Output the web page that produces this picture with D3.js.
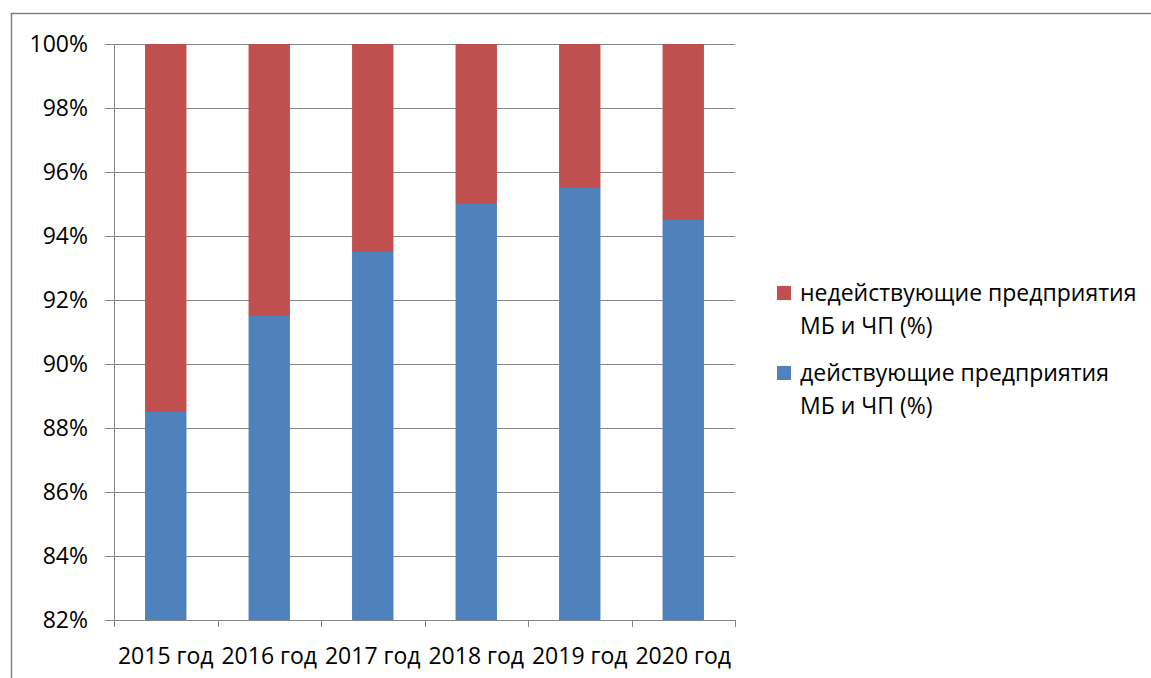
<!DOCTYPE html>
<html>
<head>
<meta charset="utf-8">
<script src="https://d3js.org/d3.v7.min.js"></script>
<style>
  body { margin: 0; background: #fff; }
  svg text { font-family: "Open Sans", "Noto Sans", sans-serif; fill: #000; }
</style>
</head>
<body>
<svg id="chart" width="1151" height="678"></svg>
<script>
// data
var years = ["2015 год", "2016 год", "2017 год", "2018 год", "2019 год", "2020 год"];
var active = [88.5, 91.5, 93.5, 95, 95.5, 94.5];          // действующие
var inactive = [11.5, 8.5, 6.5, 5, 4.5, 5.5];             // недействующие
var yTicks = [82, 84, 86, 88, 90, 92, 94, 96, 98, 100];
var seriesNames = ["недействующие предприятия МБ и ЧП (%)", "действующие предприятия МБ и ЧП (%)"];
var colors = { active: "#4F81BD", inactive: "#C0504D" };

var svg = d3.select("#chart");
var fs = "23px";

// outer frame (chart area border)
svg.append("rect")
  .attr("x", 11.5).attr("y", 13.5)
  .attr("width", 1200).attr("height", 700)
  .attr("fill", "none").attr("stroke", "#7f7f7f").attr("stroke-width", 1.5);

var pLeft = 114, pRight = 735, pTop = 44, pBottom = 620;

var x = d3.scaleBand().domain(years).range([pLeft, pRight]).paddingInner(0.6).paddingOuter(0.3);
var xb = d3.scaleBand().domain(years).range([pLeft, pRight]);
var y = d3.scaleLinear().domain([82, 100]).range([pBottom, pTop]);

// gridlines
svg.append("g").selectAll("line").data(yTicks).enter().append("line")
  .attr("x1", pLeft - 9).attr("x2", pRight)
  .attr("y1", function (d) { return Math.round(y(d)) + 0.5; })
  .attr("y2", function (d) { return Math.round(y(d)) + 0.5; })
  .attr("stroke", "#868686").attr("stroke-width", 1);

// y labels
svg.append("g").selectAll("text").data(yTicks).enter().append("text")
  .attr("x", 88).attr("y", function (d) { return y(d); })
  .attr("dy", "0.35em").attr("text-anchor", "end")
  .attr("font-size", fs)
  .text(function (d) { return d + "%"; });

// bars
var g = svg.append("g");
g.selectAll("rect.act").data(years).enter().append("rect")
  .attr("class", "act")
  .attr("x", function (d) { return x(d); })
  .attr("width", x.bandwidth())
  .attr("y", function (d, i) { return y(active[i]); })
  .attr("height", function (d, i) { return y(82) - y(active[i]); })
  .attr("fill", colors.active);

g.selectAll("rect.inact").data(years).enter().append("rect")
  .attr("class", "inact")
  .attr("x", function (d) { return x(d); })
  .attr("width", x.bandwidth())
  .attr("y", function (d, i) { return y(active[i] + inactive[i]); })
  .attr("height", function (d, i) { return y(active[i]) - y(active[i] + inactive[i]); })
  .attr("fill", colors.inactive);

// y axis line
svg.append("line")
  .attr("x1", pLeft + 0.5).attr("x2", pLeft + 0.5)
  .attr("y1", pTop).attr("y2", pBottom)
  .attr("stroke", "#868686");

// x axis with ticks at category boundaries
svg.append("line")
  .attr("x1", pLeft).attr("x2", pRight + 0.5)
  .attr("y1", pBottom + 0.5).attr("y2", pBottom + 0.5)
  .attr("stroke", "#868686");
var bounds = years.map(function (d) { return xb(d); }).concat([pRight]);
svg.append("g").selectAll("line").data(bounds).enter().append("line")
  .attr("x1", function (d) { return Math.round(d) + 0.5; })
  .attr("x2", function (d) { return Math.round(d) + 0.5; })
  .attr("y1", pBottom).attr("y2", pBottom + 7)
  .attr("stroke", "#868686");

svg.append("g").selectAll("text").data(years).enter().append("text")
  .attr("x", function (d) { return xb(d) + xb.bandwidth() / 2; })
  .attr("y", 664)
  .attr("text-anchor", "middle")
  .attr("font-size", fs)
  .text(function (d) { return d; });

// legend
var legend = [
  { name: seriesNames[0], color: colors.inactive, y: 286 },
  { name: seriesNames[1], color: colors.active, y: 366 }
];
var lg = svg.append("g").selectAll("g").data(legend).enter().append("g");
lg.append("rect")
  .attr("x", 777).attr("y", function (d) { return d.y; })
  .attr("width", 14).attr("height", 14)
  .attr("fill", function (d) { return d.color; });
lg.append("text")
  .attr("x", 800).attr("y", function (d) { return d.y + 15; })
  .attr("font-size", fs)
  .text(function (d) { return d.name.replace(" МБ и ЧП (%)", ""); });
lg.append("text")
  .attr("x", 800).attr("y", function (d) { return d.y + 48; })
  .attr("font-size", fs)
  .text("МБ и ЧП (%)");
</script>
</body>
</html>
